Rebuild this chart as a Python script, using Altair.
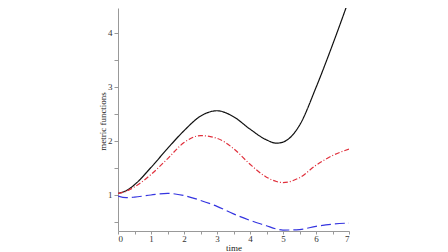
import altair as alt
import pandas as pd

t = [0, 0.25, 0.5, 1, 1.5, 2, 2.5, 3, 3.5, 4, 4.5, 4.8, 5, 5.5, 6, 6.5, 7]
black = [1.03, 1.08, 1.19, 1.51, 1.86, 2.19, 2.46, 2.56, 2.45, 2.22, 2.02, 1.96, 1.98, 2.29, 2.99, 3.78, 4.62]
red = [1.03, 1.07, 1.15, 1.38, 1.67, 1.97, 2.10, 2.05, 1.86, 1.57, 1.33, 1.25, 1.23, 1.32, 1.55, 1.73, 1.85]
blue = [0.98, 0.95, 0.96, 1.00, 1.03, 0.99, 0.90, 0.79, 0.65, 0.53, 0.43, 0.37, 0.35, 0.36, 0.42, 0.46, 0.48]

rows = []
for name, vals in [("g1", black), ("g2", red), ("g3", blue)]:
    for ti, v in zip(t, vals):
        rows.append({"time": ti, "value": v, "series": name})
df = pd.DataFrame(rows)

x_ticks = [i * 0.5 for i in range(15)]
y_ticks = [0.5, 1, 1.5, 2, 2.5, 3, 3.5, 4]
int_label = "datum.value % 1 == 0 ? format(datum.value, 'd') : ''"

base = alt.Chart(df).mark_line(strokeWidth=1.2, interpolate="monotone", clip=True).encode(
    x=alt.X("time:Q", scale=alt.Scale(domain=[0, 7], nice=False, zero=False),
            axis=alt.Axis(title="time", values=x_ticks, labelExpr=int_label,
                          tickSize=3, labelPadding=0, titlePadding=0, grid=False)),
    y=alt.Y("value:Q", scale=alt.Scale(domain=[0.333, 4.463], nice=False, zero=False),
            axis=alt.Axis(title="metric functions", values=y_ticks, labelExpr=int_label,
                          tickSize=4, labelPadding=2, grid=False,
                          titleX=-16, titleY=113, titleAngle=270,
                          titleAlign="center", titleBaseline="middle")),
    color=alt.Color("series:N", scale=alt.Scale(domain=["g1", "g2", "g3"],
                                                range=["#111111", "#e0303c", "#3535e0"]), legend=None),
    strokeDash=alt.StrokeDash("series:N", scale=alt.Scale(domain=["g1", "g2", "g3"],
                                                          range=[[1, 0], [5, 2, 1, 2], [10, 4]]), legend=None),
)

chart = base.properties(
    width=231, height=223,
    autosize=alt.AutoSizeParams(type="none"),
    padding={"left": 110, "top": 0, "right": 90, "bottom": 30},
).configure_view(stroke=None).configure_axis(
    domainColor="#999999", tickColor="#999999", labelColor="#333333",
    labelFont="Liberation Serif", labelFontSize=9,
    titleFont="Liberation Serif", titleFontSize=9, titleFontWeight="normal", titleColor="#222222",
)

chart.save("out.html", embed_options={"renderer": "svg", "actions": False})
